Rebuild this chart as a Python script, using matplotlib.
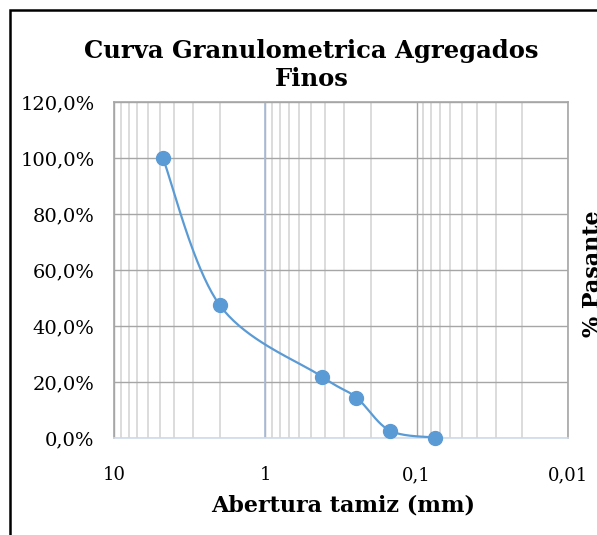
import numpy as np
import matplotlib
matplotlib.use("Agg")
from matplotlib import pyplot as plt
from matplotlib import ticker
from matplotlib.patches import Rectangle

# datos de la curva
abertura = [4.75, 2.0, 0.42, 0.25, 0.15, 0.075]
pasante = [100.0, 47.5, 21.9, 14.5, 2.7, 0.2]

y_ticks = [0, 20, 40, 60, 80, 100, 120]
y_labels = ["0,0%", "20,0%", "40,0%", "60,0%", "80,0%", "100,0%", "120,0%"]
x_ticks = [10, 1, 0.1, 0.01]
x_labels = ["10", "1", "0,1", "0,01"]

titulo = "Curva Granulometrica Agregados\nFinos"
x_titulo = "Abertura tamiz (mm)"
y_titulo = "% Pasante"

azul = "#5B9BD5"
serif = "DejaVu Serif"


def suavizar(xs, ys, n=40):
    # curva suavizada tipo Excel (Catmull-Rom en espacio log)
    lx = np.log10(xs)
    ys = np.asarray(ys, dtype=float)
    px = np.concatenate([[lx[0]], lx, [lx[-1]]])
    py = np.concatenate([[ys[0]], ys, [ys[-1]]])
    outx, outy = [], []
    t = np.linspace(0, 1, n)
    for i in range(1, len(px) - 2):
        p0, p1, p2, p3 = px[i - 1], px[i], px[i + 1], px[i + 2]
        q0, q1, q2, q3 = py[i - 1], py[i], py[i + 1], py[i + 2]
        bx = [p1, p1 + (p2 - p0) / 6, p2 - (p3 - p1) / 6, p2]
        by = [q1, q1 + (q2 - q0) / 6, q2 - (q3 - q1) / 6, q2]
        cx = ((1 - t) ** 3 * bx[0] + 3 * (1 - t) ** 2 * t * bx[1]
              + 3 * (1 - t) * t ** 2 * bx[2] + t ** 3 * bx[3])
        cy = ((1 - t) ** 3 * by[0] + 3 * (1 - t) ** 2 * t * by[1]
              + 3 * (1 - t) * t ** 2 * by[2] + t ** 3 * by[3])
        outx.extend(cx)
        outy.extend(cy)
    return 10 ** np.array(outx), np.array(outy)


fig = plt.figure(figsize=(5.97, 5.35), dpi=100)
ax = fig.add_axes([0.191, 0.181, 0.760, 0.628])

ax.set_xscale("log")
ax.set_xlim(10, 0.01)
ax.set_ylim(0, 120)

ax.xaxis.set_major_locator(ticker.FixedLocator(x_ticks))
ax.xaxis.set_major_formatter(ticker.FixedFormatter(x_labels))
ax.xaxis.set_minor_locator(ticker.LogLocator(base=10, subs=range(2, 10)))
ax.xaxis.set_minor_formatter(ticker.NullFormatter())
ax.set_yticks(y_ticks)
ax.set_yticklabels(y_labels)

ax.grid(which="major", color="#A6A6A6", linewidth=1.0)
ax.grid(which="minor", axis="x", color="#D9D9D9", linewidth=1.3)
ax.set_axisbelow(True)
ax.axvline(1, color="#A9BCD8", linewidth=1.2, zorder=1)

for s in ["left", "top", "right"]:
    ax.spines[s].set_color("#A6A6A6")
    ax.spines[s].set_linewidth(1.2)
ax.spines["bottom"].set_color("#D0DAEA")
ax.spines["bottom"].set_linewidth(1.2)

ax.tick_params(which="both", length=0)
ax.tick_params(axis="y", pad=14, labelsize=14)
ax.tick_params(axis="x", pad=20, labelsize=13)
for lab in ax.get_xticklabels() + ax.get_yticklabels():
    lab.set_fontfamily(serif)

sx, sy = suavizar(abertura, pasante)
ax.plot(sx, sy, color=azul, linewidth=1.6, zorder=3)
ax.plot(abertura, pasante, "o", color=azul, markersize=10, zorder=4,
        clip_on=False)

fig.text(0.522, 0.879, titulo, ha="center", va="center", fontsize=17.5,
         fontweight="bold", family=serif, linespacing=1.2)
fig.text(0.575, 0.056, x_titulo, ha="center", va="center", fontsize=16,
         fontweight="bold", family=serif)
fig.text(0.994, 0.488, y_titulo, ha="center", va="center", fontsize=16,
         fontweight="bold", family=serif, rotation=90)

fig.patches.append(Rectangle((0.0175, -0.1), 1.2, 1.081, fill=False,
                             edgecolor="black", linewidth=1.8,
                             transform=fig.transFigure, figure=fig))

fig.savefig("out.png", dpi=100)
